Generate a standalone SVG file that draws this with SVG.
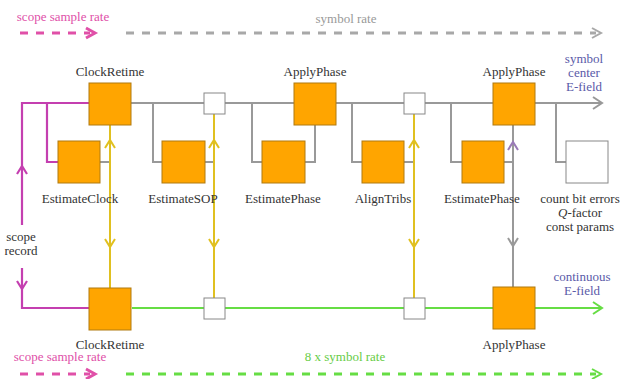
<svg xmlns="http://www.w3.org/2000/svg" width="622" height="379" viewBox="0 0 622 379">
<style>
text{font-family:"Liberation Serif","Times New Roman","DejaVu Serif",serif;font-size:13px;fill:#333;text-anchor:middle}
.blk{fill:#ffa500;stroke:#b07a10;stroke-width:1}
.wb{fill:#fff;stroke:#888;stroke-width:1}
.g{stroke:#999;stroke-width:2;fill:none}
.m{stroke:#c43fb0;stroke-width:2.2;fill:none}
.y{stroke:#e0c020;stroke-width:2;fill:none}
.gr{stroke:#66dd44;stroke-width:2;fill:none}
.dash{stroke-width:3;stroke-dasharray:8 8;fill:none}
.pk{fill:#e050a8}
.bl{fill:#5a5aa8}
.gy{fill:#999}
.gn{fill:#66cc44}
</style>
<g id="connectors">
<polyline class="m" points="89,103 22,103 22,225"/>
<polyline class="m" points="47,103 47,162 58,162"/>
<line class="g" x1="131" y1="103" x2="602" y2="103"/>
<polyline class="g" points="593,97 602,103 593,109"/>
<polyline class="g" points="153,103 153,162 162,162"/>
<polyline class="g" points="252,103 252,162 262,162"/>
<polyline class="g" points="352,103 352,162 362,162"/>
<polyline class="g" points="451,103 451,162 462,162"/>
<polyline class="g" points="556,103 556,162 566,162"/>
<line class="g" x1="100" y1="162" x2="110" y2="162"/>
<line class="g" x1="205" y1="162" x2="214" y2="162"/>
<polyline class="g" points="305,162 315,162 315,125"/>
<line class="g" x1="404" y1="162" x2="414" y2="162"/>
<line class="g" x1="504" y1="162" x2="513" y2="162"/>
<polyline class="m" points="17,174 22,166 27,174"/>
<polyline class="m" points="22,268 22,308 89,308"/>
<polyline class="m" points="17,281 22,289 27,281"/>
<line class="y" x1="110" y1="125" x2="110" y2="288"/>
<polyline class="y" points="105,148 110,140 115,148"/>
<polyline class="y" points="105,239 110,247 115,239"/>
<line class="y" x1="214" y1="114" x2="214" y2="298"/>
<polyline class="y" points="209,148 214,140 219,148"/>
<polyline class="y" points="209,239 214,247 219,239"/>
<line class="y" x1="414" y1="114" x2="414" y2="298"/>
<polyline class="y" points="409,148 414,140 419,148"/>
<polyline class="y" points="409,239 414,247 419,239"/>
<line class="g" x1="513" y1="125" x2="513" y2="287"/>
<polyline stroke="#9a7ab8" stroke-width="2" fill="none" points="508,150 513,142 518,150"/>
<polyline class="g" points="508,238 513,246 518,238"/>
<line class="gr" x1="132" y1="308" x2="602" y2="308"/>
<polyline class="gr" points="593,302 602,308 593,314"/>
<line class="dash" stroke="#e050a8" x1="20" y1="33" x2="90" y2="33"/>
<polyline stroke="#e050a8" stroke-width="3" fill="none" points="86,28 95,33 86,38"/>
<line class="dash" stroke="#a8a8a8" x1="126" y1="33" x2="596" y2="33"/>
<polyline stroke="#a8a8a8" stroke-width="2" fill="none" points="592,28 601,33 592,38"/>
<line class="dash" stroke="#e050a8" x1="20" y1="374" x2="90" y2="374"/>
<polyline stroke="#e050a8" stroke-width="3" fill="none" points="86,369 95,374 86,379"/>
<line class="dash" stroke="#66dd44" x1="126" y1="374" x2="596" y2="374"/>
<polyline stroke="#66dd44" stroke-width="2" fill="none" points="592,369 601,374 592,379"/>
</g>
<g id="clockretime-top"><rect class="blk" x="89" y="83" width="42" height="42"/><text x="110" y="76">ClockRetime</text></g>
<g id="sop-top"><rect class="wb" x="204" y="93" width="21" height="21"/></g>
<g id="applyphase-1"><rect class="blk" x="294" y="83" width="42" height="42"/><text x="315" y="76">ApplyPhase</text></g>
<g id="align-top"><rect class="wb" x="404" y="93" width="21" height="21"/></g>
<g id="applyphase-2"><rect class="blk" x="493" y="83" width="42" height="42"/><text x="514" y="76">ApplyPhase</text></g>
<g id="estimateclock"><rect class="blk" x="58" y="141" width="42" height="42"/><text x="80" y="203">EstimateClock</text></g>
<g id="estimatesop"><rect class="blk" x="162" y="141" width="43" height="42"/><text x="183" y="203">EstimateSOP</text></g>
<g id="estimatephase-1"><rect class="blk" x="262" y="141" width="43" height="42"/><text x="283" y="203">EstimatePhase</text></g>
<g id="aligntribs"><rect class="blk" x="362" y="141" width="42" height="42"/><text x="383" y="203">AlignTribs</text></g>
<g id="estimatephase-2"><rect class="blk" x="462" y="141" width="42" height="42"/><text x="482" y="203">EstimatePhase</text></g>
<g id="metrics"><rect class="wb" x="566" y="141" width="42" height="42"/><text x="580" y="203">count bit errors</text><text x="580" y="217"><tspan font-style="italic">Q</tspan>-factor</text><text x="580" y="231">const params</text></g>
<g id="clockretime-bottom"><rect class="blk" x="89" y="288" width="42" height="42"/><text x="110" y="349">ClockRetime</text></g>
<g id="sop-bottom"><rect class="wb" x="204" y="298" width="21" height="21"/></g>
<g id="align-bottom"><rect class="wb" x="404" y="298" width="21" height="21"/></g>
<g id="applyphase-bottom"><rect class="blk" x="493" y="287" width="42" height="42"/><text x="514" y="349">ApplyPhase</text></g>
<g id="labels">
<text class="pk" x="63" y="21">scope sample rate</text>
<text class="gy" x="346" y="23">symbol rate</text>
<text class="bl" x="584" y="63">symbol</text>
<text class="bl" x="584" y="77">center</text>
<text class="bl" x="584" y="91">E-field</text>
<text x="21" y="241">scope</text>
<text x="21" y="255">record</text>
<text class="bl" x="582" y="281">continuous</text>
<text class="bl" x="582" y="295">E-field</text>
<text class="pk" x="60" y="361">scope sample rate</text>
<text class="gn" x="345" y="361">8 x symbol rate</text>
</g>
</svg>
